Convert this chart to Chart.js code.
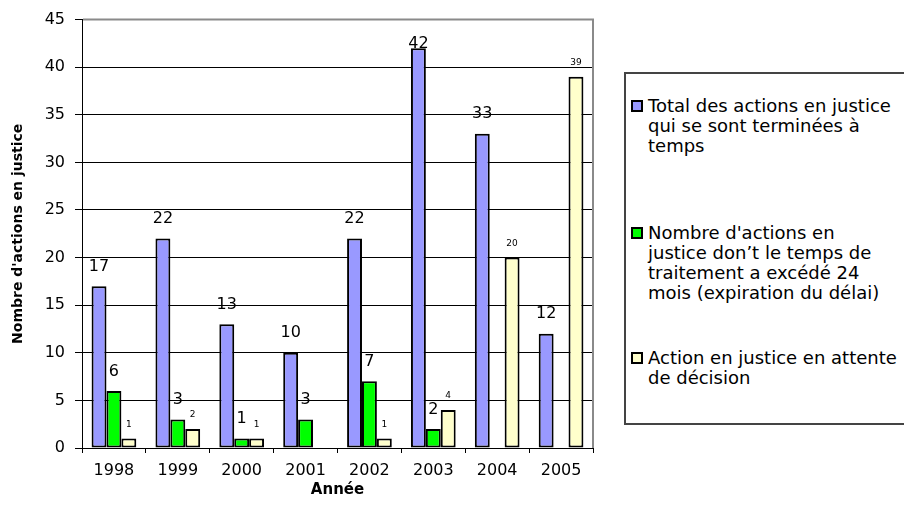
<!DOCTYPE html>
<html>
<head>
<meta charset="utf-8">
<script src="https://cdn.jsdelivr.net/npm/chart.js@4/dist/chart.umd.min.js"></script>
<style>
  html, body { margin: 0; padding: 0; background: #fff; overflow: hidden; }
  #wrap { position: relative; width: 904px; height: 509px; overflow: hidden; }
  #c { position: absolute; left: 0; top: 0; }
  #legend {
    position: absolute; left: 624px; top: 72px; width: 280px; height: 353px;
    border: 2px solid #444; border-right: none; box-sizing: border-box; background: #fff;
    font-family: "DejaVu Sans", sans-serif; font-size: 18px; line-height: 20px; color: #000;
    overflow: visible;
  }
  .item { position: absolute; left: 0; width: 320px; }
  .sw { position: absolute; left: 5px; top: 4px; width: 12px; height: 12px; border: 2px solid #000; box-sizing: border-box; }
  .txt { position: absolute; left: 22px; top: 0; white-space: nowrap; }
</style>
</head>
<body>
<div id="wrap">
  <canvas id="c" width="904" height="509"></canvas>
  <div id="legend"></div>
</div>
<script>
// ---- data ----
const categories = ['1998', '1999', '2000', '2001', '2002', '2003', '2004', '2005'];
const totalTermine = [17, 22, 13, 10, 22, 42, 33, 12];
const delaiExpire = [6, 3, 1, 3, 7, 2, null, null];
const enAttente = [1, 2, 1, null, 1, 4, 20, 39];
const seriesNames = [
  'Total des actions en justice qui se sont terminées à temps',
  "Nombre d'actions en justice don’t le temps de traitement a excédé 24 mois (expiration du délai)",
  'Action en justice en attente de décision'
];
const legendLines = [
  ['Total des actions en justice', 'qui se sont terminées à', 'temps'],
  ["Nombre d'actions en", 'justice don’t le temps de', 'traitement a excédé 24', 'mois (expiration du délai)'],
  ['Action en justice en attente', 'de décision']
];
const seriesColors = ['#9999FF', '#00FF00', '#FFFFCC'];
const yMin = 0, yMax = 45, yStep = 5;
const xTitle = 'Année';
const yTitle = "Nombre d'actions en justice";

const FONT = '"DejaVu Sans", sans-serif';
Chart.defaults.font.family = FONT;
Chart.defaults.color = '#000';

const valueLabels = {
  id: 'valueLabels',
  afterDatasetsDraw(chart) {
    const ctx = chart.ctx;
    const top = chart.chartArea.top;
    chart.data.datasets.forEach((ds, i) => {
      const meta = chart.getDatasetMeta(i);
      const small = i === 2;
      ctx.save();
      ctx.font = (small ? '9px ' : '16px ') + FONT;
      ctx.fillStyle = '#000';
      ctx.textAlign = 'center';
      ctx.textBaseline = 'middle';
      meta.data.forEach((bar, j) => {
        const v = ds.data[j];
        if (v === null || v === undefined) return;
        let y = bar.y - (small ? 14 : 19.5);
        y = Math.max(y, top + 24);
        ctx.fillText(String(v), bar.x, y);
      });
      ctx.restore();
    });
  }
};

const plotFrame = {
  id: 'plotFrame',
  afterDraw(chart) {
    const { left, right, top, bottom } = chart.chartArea;
    const ctx = chart.ctx;
    ctx.save();
    ctx.strokeStyle = '#8a8a8a';
    ctx.lineWidth = 2;
    ctx.beginPath();
    ctx.moveTo(left + 1, top);
    ctx.lineTo(right, top);
    ctx.lineTo(right, bottom);
    ctx.stroke();
    ctx.restore();
  }
};

new Chart(document.getElementById('c'), {
  type: 'bar',
  data: {
    labels: categories,
    datasets: [
      { label: seriesNames[0], data: totalTermine, backgroundColor: seriesColors[0] },
      { label: seriesNames[1], data: delaiExpire, backgroundColor: seriesColors[1] },
      { label: seriesNames[2], data: enAttente, backgroundColor: seriesColors[2] }
    ].map(d => Object.assign(d, {
      borderColor: '#000', borderWidth: 2, borderSkipped: false,
      categoryPercentage: 0.7, barPercentage: 1.0
    }))
  },
  options: {
    responsive: false,
    animation: false,
    devicePixelRatio: 1,
    layout: { padding: { left: 0, top: 14, right: 311, bottom: 0 } },
    plugins: { legend: { display: false }, tooltip: { enabled: false } },
    scales: {
      x: {
        type: 'category',
        grid: { offset: true, drawOnChartArea: false, color: '#000', lineWidth: 1, tickLength: 5 },
        border: { color: '#000', width: 1 },
        ticks: { font: { size: 16, family: FONT }, color: '#000', padding: 8, maxRotation: 0 },
        title: { display: true, text: xTitle, font: { size: 15, weight: 'bold', family: FONT }, color: '#000', padding: { top: 0, bottom: 10 } },
        afterFit(scale) { scale.height = 61; }
      },
      y: {
        min: yMin, max: yMax,
        ticks: { stepSize: yStep, font: { size: 16, family: FONT }, color: '#000', padding: 10 },
        grid: { color: '#000', lineWidth: 1, tickLength: 7 },
        border: { color: '#000', width: 1 },
        title: { display: true, text: yTitle, font: { size: 14, weight: 'bold', family: FONT }, color: '#000', padding: { top: 10, bottom: 0 } },
        afterFit(scale) { scale.width = 82; }
      }
    }
  },
  plugins: [valueLabels, plotFrame]
});

// ---- HTML legend ----
const legendTops = [22, 149, 274];
const legendEl = document.getElementById('legend');
legendLines.forEach((lines, i) => {
  const item = document.createElement('div');
  item.className = 'item';
  item.style.top = legendTops[i] + 'px';
  const sw = document.createElement('div');
  sw.className = 'sw';
  sw.style.background = seriesColors[i];
  const txt = document.createElement('div');
  txt.className = 'txt';
  txt.innerHTML = lines.map(s => s.replace(/&/g, '&amp;').replace(/</g, '&lt;')).join('<br>');
  item.appendChild(sw);
  item.appendChild(txt);
  legendEl.appendChild(item);
});
</script>
</body>
</html>
